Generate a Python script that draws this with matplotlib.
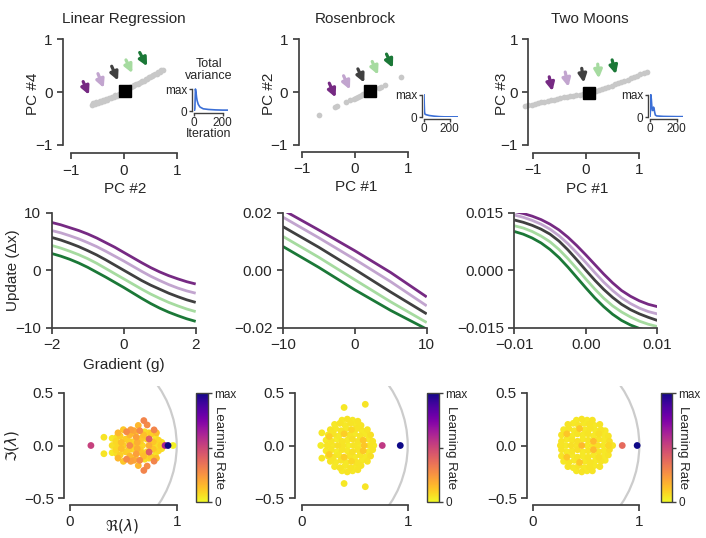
import matplotlib
matplotlib.use("Agg")
import matplotlib.pyplot as plt
import numpy as np
from matplotlib.patches import Arc
from matplotlib.colors import Normalize
from matplotlib.cm import ScalarMappable

W, H = 706, 538

TITLES = ["Linear Regression", "Rosenbrock", "Two Moons"]
PC_XLABELS = ["PC #2", "PC #1", "PC #1"]
PC_YLABELS = ["PC #4", "PC #2", "PC #3"]
LINE_COLORS = ["#762a83", "#c2a5cf", "#404040", "#a6dba0", "#1b7837"]

# --- top row: trajectory projections (gray dots), final point, arrows
lr_traj_x = [-0.61, -0.58, -0.55, -0.52, -0.49, -0.46, -0.43, -0.40, -0.37, -0.34,
             -0.31, -0.28, -0.25, -0.22, -0.19, -0.16, -0.13, -0.10, -0.07, -0.04,
             -0.01, 0.05, 0.08, 0.11, 0.14, 0.17, 0.20, 0.23, 0.26, 0.29, 0.32,
             0.35, 0.38, 0.41, 0.44, 0.47, 0.50, 0.53, 0.56, 0.59, 0.62, 0.65,
             0.68, 0.71, 0.74]
lr_traj_y = [-0.24, -0.21, -0.22, -0.19, -0.20, -0.17, -0.18, -0.15, -0.16, -0.13,
             -0.14, -0.11, -0.12, -0.09, -0.10, -0.06, -0.07, -0.04, -0.03, 0.00,
             0.01, 0.05, 0.06, 0.09, 0.09, 0.12, 0.13, 0.15, 0.16, 0.18, 0.19,
             0.21, 0.22, 0.25, 0.25, 0.28, 0.29, 0.31, 0.32, 0.35, 0.35, 0.38,
             0.38, 0.41, 0.42]
rb_traj_x = [-0.68, -0.38, -0.33, -0.17, -0.09, -0.01, 0.03, 0.06, 0.10, 0.13,
             0.16, 0.19, 0.22, 0.25, 0.46, 0.49, 0.57, 0.87]
rb_traj_y = [-0.44, -0.29, -0.27, -0.19, -0.15, -0.13, -0.11, -0.09, -0.07, -0.06,
             -0.04, -0.03, -0.02, -0.01, 0.07, 0.10, 0.13, 0.29]
tm_traj_x = [-1.14, -1.08, -1.02, -0.96, -0.90, -0.84, -0.78, -0.72, -0.66, -0.60,
             -0.54, -0.48, -0.42, -0.36, -0.30, -0.24, -0.18, -0.12, -0.06, 0.00,
             0.12, 0.18, 0.24, 0.30, 0.36, 0.42, 0.48, 0.54, 0.60, 0.66, 0.72,
             0.78, 0.84, 0.90, 0.96, 1.02, 1.08, 1.14]
tm_traj_y = [-0.26, -0.25, -0.235, -0.22, -0.205, -0.19, -0.18, -0.165, -0.15, -0.14,
             -0.13, -0.115, -0.10, -0.09, -0.08, -0.07, -0.055, -0.045, -0.035, -0.025,
             0.0, 0.015, 0.035, 0.055, 0.075, 0.10, 0.12, 0.145, 0.165, 0.19, 0.215,
             0.235, 0.26, 0.285, 0.31, 0.335, 0.355, 0.38]
final_points = [(0.02, 0.02), (0.28, 0.03), (0.06, -0.01)]

lr_arrow_tails = [(-0.77, 0.20), (-0.49, 0.35), (-0.23, 0.49), (0.04, 0.61), (0.30, 0.75)]
lr_arrow_heads = [(-0.66, -0.05), (-0.38, 0.08), (-0.11, 0.22), (0.16, 0.36), (0.44, 0.49)]
rb_arrow_tails = [(-0.48, 0.17), (-0.21, 0.31), (0.06, 0.44), (0.33, 0.58), (0.60, 0.72)]
rb_arrow_heads = [(-0.36, -0.10), (-0.09, 0.05), (0.18, 0.18), (0.44, 0.33), (0.72, 0.46)]
tm_arrow_tails = [(-0.69, 0.29), (-0.39, 0.38), (-0.08, 0.45), (0.22, 0.53), (0.49, 0.61)]
tm_arrow_heads = [(-0.63, 0.02), (-0.33, 0.10), (-0.04, 0.18), (0.24, 0.26), (0.56, 0.34)]

# insets: total variance vs iteration (normalised to max)
lr_iter = [0, 4, 8, 12, 16, 20, 28, 40, 63, 100, 150, 200, 240]
lr_var = [0.0, 0.1, 1.0, 0.85, 0.62, 0.47, 0.30, 0.18, 0.10, 0.07, 0.05, 0.04, 0.04]
rb_iter = [0, 2, 4, 6, 10, 20, 40, 80, 120, 160, 200, 265]
rb_var = [1.0, 0.55, 0.25, 0.16, 0.13, 0.11, 0.08, 0.05, 0.03, 0.02, 0.02, 0.02]
tm_iter = [0, 3, 6, 10, 14, 18, 22, 26, 30, 34, 40, 50, 100, 200, 250]
tm_var = [0.0, 0.3, 1.0, 0.8, 0.45, 0.30, 0.32, 0.45, 0.40, 0.25, 0.10, 0.06, 0.04, 0.03, 0.03]

# --- middle row: update vs gradient
lr_grad = [-2, -1.75, -1.5, -1.25, -1, -0.75, -0.5, -0.25, 0,
           0.25, 0.5, 0.75, 1, 1.25, 1.5, 1.75, 2]
lr_updates = [
    [8.3, 7.9, 7.4, 6.9, 6.3, 5.6, 4.8, 4.0, 3.1, 2.2, 1.3, 0.45, -0.3, -0.95, -1.5, -2.0, -2.4],
    [6.9, 6.5, 6.0, 5.45, 4.8, 4.1, 3.3, 2.45, 1.6, 0.7, -0.2, -1.05, -1.8, -2.5, -3.1, -3.6, -4.0],
    [5.7, 5.25, 4.7, 4.1, 3.4, 2.65, 1.8, 0.9, 0.0, -0.9, -1.8, -2.6, -3.3, -4.0, -4.6, -5.15, -5.6],
    [4.3, 3.85, 3.3, 2.7, 2.0, 1.2, 0.3, -0.6, -1.5, -2.4, -3.3, -4.15, -4.9, -5.6, -6.2, -6.75, -7.2],
    [2.9, 2.45, 1.9, 1.25, 0.5, -0.35, -1.2, -2.1, -3.0, -3.95, -4.9, -5.8, -6.6, -7.3, -7.9, -8.45, -8.9],
]
rb_grad = [-10, -5, 0, 5, 10]
rb_updates = [
    [0.0210, 0.0140, 0.0068, -0.0008, -0.0093],
    [0.0185, 0.0113, 0.0038, -0.0040, -0.0124],
    [0.0152, 0.0080, 0.0003, -0.0076, -0.0152],
    [0.0118, 0.0045, -0.0033, -0.0110, -0.0182],
    [0.0083, 0.0010, -0.0068, -0.0140, -0.0205],
]
tm_grad = [-0.01, -0.00875, -0.0075, -0.00625, -0.005, -0.00375, -0.0025, -0.00125, 0,
           0.00125, 0.0025, 0.00375, 0.005, 0.00625, 0.0075, 0.00875, 0.01]
tm_updates = [
    [0.0153, 0.0148, 0.0141, 0.0132, 0.0120, 0.0105, 0.0086, 0.0064, 0.0040,
     0.0015, -0.0010, -0.0033, -0.0053, -0.0068, -0.0080, -0.0089, -0.0095],
    [0.0144, 0.0138, 0.0130, 0.0120, 0.0107, 0.0090, 0.0069, 0.0045, 0.0020,
     -0.0006, -0.0031, -0.0053, -0.0072, -0.0087, -0.0099, -0.0108, -0.0114],
    [0.0131, 0.0125, 0.0117, 0.0107, 0.0094, 0.0076, 0.0053, 0.0027, 0.0000,
     -0.0026, -0.0050, -0.0071, -0.0089, -0.0103, -0.0114, -0.0123, -0.0131],
    [0.0116, 0.0110, 0.0101, 0.0089, 0.0074, 0.0054, 0.0030, 0.0004, -0.0023,
     -0.0049, -0.0073, -0.0093, -0.0109, -0.0122, -0.0133, -0.0141, -0.0147],
    [0.0101, 0.0094, 0.0084, 0.0071, 0.0054, 0.0033, 0.0008, -0.0019, -0.0046,
     -0.0072, -0.0095, -0.0115, -0.0131, -0.0143, -0.0152, -0.0158, -0.0162],
]
mid_xticks = [[-2, 0, 2], [-10, 0, 10], [-0.01, 0, 0.01]]
mid_xticklabels = [["\u22122", "0", "2"], ["\u221210", "0", "10"], ["\u22120.01", "0.00", "0.01"]]
mid_yticks = [[-10, 0, 10], [-0.02, 0, 0.02], [-0.015, 0, 0.015]]
mid_yticklabels = [["\u221210", "0", "10"], ["\u22120.02", "0.00", "0.02"],
                   ["\u22120.015", "0.000", "0.015"]]

# --- bottom row: eigenvalues (real axis points, and upper half of conjugate pairs)
lr_real = [(0.196, 0.52), (0.395, 0.06), (0.45, 0.08), (0.50, 0.10), (0.56, 0.28),
           (0.62, 0.12), (0.68, 0.08), (0.74, 0.18), (0.80, 0.06), (0.85, 0.10),
           (0.966, 0.02), (0.891, 0.62), (0.919, 1.0)]
lr_pairs = [(0.318, 0.078, 0.05), (0.395, 0.068, 0.04), (0.43, 0.04, 0.08), (0.47, 0.09, 0.10),
            (0.48, 0.03, 0.14), (0.53, 0.13, 0.28), (0.52, 0.06, 0.10), (0.56, 0.10, 0.16),
            (0.58, 0.035, 0.08), (0.60, 0.14, 0.20), (0.62, 0.08, 0.22), (0.654, 0.14, 0.28),
            (0.66, 0.04, 0.10), (0.69, 0.10, 0.14), (0.72, 0.06, 0.08), (0.70, 0.13, 0.06),
            (0.76, 0.11, 0.10), (0.78, 0.035, 0.12), (0.80, 0.09, 0.05), (0.83, 0.05, 0.08),
            (0.692, 0.236, 0.30), (0.723, 0.195, 0.28), (0.788, 0.148, 0.30), (0.45, 0.12, 0.16),
            (0.50, 0.15, 0.12), (0.57, 0.15, 0.22), (0.64, 0.19, 0.16), (0.741, 0.062, 0.42),
            (0.44, 0.08, 0.06), (0.55, 0.04, 0.10), (0.63, 0.03, 0.18), (0.74, 0.12, 0.08),
            (0.81, 0.12, 0.14), (0.86, 0.03, 0.06), (0.61, 0.11, 0.08), (0.67, 0.07, 0.12)]
rb_real = [(0.18, 0.03), (0.24, 0.05), (0.29, 0.04), (0.34, 0.06), (0.39, 0.05), (0.44, 0.03),
           (0.49, 0.05), (0.54, 0.04), (0.59, 0.12), (0.64, 0.05), (0.68, 0.04),
           (0.76, 0.55), (0.93, 1.0)]
rb_pairs = [(0.23, 0.05, 0.04), (0.28, 0.04, 0.05), (0.33, 0.06, 0.03), (0.38, 0.04, 0.05),
            (0.43, 0.05, 0.04), (0.48, 0.06, 0.06), (0.53, 0.04, 0.05), (0.58, 0.05, 0.12),
            (0.63, 0.06, 0.04), (0.67, 0.04, 0.05), (0.25, 0.10, 0.04), (0.30, 0.11, 0.05),
            (0.35, 0.09, 0.04), (0.40, 0.11, 0.10), (0.45, 0.10, 0.05), (0.50, 0.11, 0.04),
            (0.55, 0.09, 0.05), (0.60, 0.11, 0.04), (0.65, 0.10, 0.06), (0.27, 0.15, 0.05),
            (0.32, 0.16, 0.04), (0.37, 0.14, 0.05), (0.42, 0.16, 0.04), (0.47, 0.15, 0.08),
            (0.52, 0.16, 0.05), (0.57, 0.14, 0.04), (0.62, 0.15, 0.05), (0.31, 0.20, 0.04),
            (0.36, 0.21, 0.05), (0.41, 0.19, 0.04), (0.46, 0.21, 0.05), (0.51, 0.20, 0.04),
            (0.56, 0.19, 0.05), (0.38, 0.24, 0.04), (0.43, 0.25, 0.05), (0.48, 0.24, 0.04),
            (0.53, 0.23, 0.05), (0.19, 0.12, 0.04), (0.26, 0.085, 0.10), (0.40, 0.36, 0.04),
            (0.60, 0.39, 0.05)]
tm_real = [(0.26, 0.05), (0.31, 0.04), (0.36, 0.06), (0.41, 0.05), (0.46, 0.15), (0.51, 0.04),
           (0.56, 0.05), (0.61, 0.06), (0.66, 0.04), (0.71, 0.08), (0.75, 0.05),
           (0.84, 0.38), (0.98, 1.0)]
tm_pairs = [(0.27, 0.04, 0.05), (0.32, 0.06, 0.04), (0.37, 0.05, 0.05), (0.42, 0.04, 0.06),
            (0.47, 0.06, 0.04), (0.52, 0.05, 0.05), (0.57, 0.04, 0.15), (0.62, 0.06, 0.05),
            (0.67, 0.05, 0.04), (0.72, 0.04, 0.06), (0.27, 0.10, 0.05), (0.32, 0.11, 0.12),
            (0.37, 0.09, 0.04), (0.42, 0.11, 0.05), (0.47, 0.10, 0.04), (0.52, 0.11, 0.05),
            (0.57, 0.09, 0.04), (0.62, 0.11, 0.06), (0.67, 0.10, 0.04), (0.71, 0.09, 0.05),
            (0.29, 0.15, 0.04), (0.34, 0.16, 0.05), (0.39, 0.14, 0.04), (0.44, 0.16, 0.12),
            (0.49, 0.15, 0.04), (0.54, 0.16, 0.05), (0.59, 0.14, 0.04), (0.64, 0.15, 0.05),
            (0.68, 0.14, 0.04), (0.33, 0.20, 0.05), (0.38, 0.21, 0.04), (0.43, 0.19, 0.05),
            (0.48, 0.21, 0.04), (0.53, 0.20, 0.05), (0.58, 0.19, 0.04), (0.63, 0.20, 0.05),
            (0.41, 0.24, 0.04), (0.46, 0.25, 0.05), (0.51, 0.24, 0.04), (0.56, 0.24, 0.05)]

TEXT = "#262626"
SPINE = "#404040"


def make_axes(fig, xpx, xv, ypx, yv, xlim, ylim):
    """
    Add axes so that data values xv/yv land on pixel positions xpx/ypx
    """
    sx = (xpx[1] - xpx[0]) / (xv[1] - xv[0])
    sy = (ypx[1] - ypx[0]) / (yv[1] - yv[0])
    left = xpx[0] + (xlim[0] - xv[0]) * sx
    right = xpx[0] + (xlim[1] - xv[0]) * sx
    bottom = ypx[0] + (ylim[0] - yv[0]) * sy
    top = ypx[0] + (ylim[1] - yv[0]) * sy
    ax = fig.add_axes([left / W, 1 - bottom / H, (right - left) / W, (bottom - top) / H])
    ax.set_xlim(xlim)
    ax.set_ylim(ylim)
    ax.patch.set_visible(False)
    return ax


def style_axes(ax, xticks, yticks, xlabels, ylabels, xspine=None, yspine=None, size=11):
    for s in ["top", "right"]:
        ax.spines[s].set_visible(False)
    for s in ["left", "bottom"]:
        ax.spines[s].set_color(SPINE)
        ax.spines[s].set_linewidth(1.25)
    if xspine is not None:
        ax.spines["left"].set_position(("data", xspine))
    if yspine is not None:
        ax.spines["bottom"].set_position(("data", yspine))
    ax.spines["left"].set_bounds(yticks[0], yticks[-1])
    ax.spines["bottom"].set_bounds(xticks[0], xticks[-1])
    ax.set_xticks(xticks)
    ax.set_xticklabels(xlabels)
    ax.set_yticks(yticks)
    ax.set_yticklabels(ylabels)
    ax.tick_params(length=4, width=1.25, color=SPINE, labelcolor=TEXT, labelsize=size)


def fig_text(fig, x, y, s, **kw):
    fig.text(x / W, 1 - y / H, s, ha="center", va="center", color=TEXT, **kw)


def main():
    plt.rcParams["font.family"] = ["Liberation Sans", "DejaVu Sans"]
    plt.rcParams["mathtext.fontset"] = "dejavusans"
    fig = plt.figure(figsize=(W / 100, H / 100), dpi=100)

    # ---------- top row
    top_x = [(71, 176.7), (301.7, 407.7), (532.7, 639.3)]
    top_spx = [-1.15, -1.06, -1.08]
    top_spy = [-1.155, -1.13, -1.15]
    top_ylabel_x = [-0.154, -0.118, -0.098]
    trajs = [(lr_traj_x, lr_traj_y), (rb_traj_x, rb_traj_y), (tm_traj_x, tm_traj_y)]
    tails = [lr_arrow_tails, rb_arrow_tails, tm_arrow_tails]
    heads = [lr_arrow_heads, rb_arrow_heads, tm_arrow_heads]
    title_x = [124, 355, 590]
    for i in range(3):
        ax = make_axes(fig, top_x[i], (-1, 1), (145, 39.3), (-1, 1), (-1.2, 1.25), (-1.2, 1.12))
        style_axes(ax, [-1, 0, 1], [-1, 0, 1], ["\u22121", "0", "1"], ["\u22121", "0", "1"],
                   xspine=top_spx[i], yspine=top_spy[i])
        ax.scatter(trajs[i][0], trajs[i][1], s=17, color="#c8c8c8", linewidths=0, zorder=2)
        ax.plot(*final_points[i], marker="s", color="black", markersize=8.5, zorder=4)
        for c, t, h in zip(LINE_COLORS, tails[i], heads[i]):
            ax.annotate("", xy=h, xytext=t,
                        arrowprops=dict(arrowstyle="-|>", color=c, lw=2.3,
                                        mutation_scale=12, shrinkA=0, shrinkB=0))
        ax.set_xlabel(PC_XLABELS[i], fontsize=11, color=TEXT, labelpad=3)
        ax.set_ylabel(PC_YLABELS[i], fontsize=11, color=TEXT)
        ax.yaxis.set_label_coords(top_ylabel_x[i], 0.5)
        fig_text(fig, title_x[i], 19, TITLES[i], fontsize=11)

    # insets
    ins_x = [(194.3, 222.7), (424, 449.5), (650, 676.7)]
    ins_y = [(111, 89), (117.3, 94.7), (117.3, 94.7)]
    ins_xlim = [240, 265, 250]
    curves = [(lr_iter, lr_var), (rb_iter, rb_var), (tm_iter, tm_var)]
    for i in range(3):
        ax = make_axes(fig, ins_x[i], (0, 200), ins_y[i], (0, 1), (0, ins_xlim[i]), (0, 1.03))
        style_axes(ax, [0, 200], [0, 1], ["0", "200"], ["0", "max"], size=8.5)
        ax.spines["left"].set_position(("outward", 1.5))
        ax.spines["bottom"].set_position(("outward", 1.5))
        ax.tick_params(length=2.5, width=1.0, pad=1)
        ax.tick_params(axis="x", pad=0)
        for s in ["left", "bottom"]:
            ax.spines[s].set_linewidth(1.0)
        ax.plot(curves[i][0], curves[i][1], color="#3b6fd6", lw=1.2, zorder=3)
    fig_text(fig, 209, 70, "Total\nvariance", fontsize=9, linespacing=0.95)
    fig_text(fig, 209, 134, "Iteration", fontsize=9)

    # ---------- middle row
    mid_x = [(51.7, 195.7), (282.7, 426.7), (514.3, 657.3)]
    grads = [lr_grad, rb_grad, tm_grad]
    updates = [lr_updates, rb_updates, tm_updates]
    for i in range(3):
        xt, yt = mid_xticks[i], mid_yticks[i]
        ax = make_axes(fig, mid_x[i], (xt[0], xt[-1]), (327.7, 212.7), (yt[0], yt[-1]),
                       (xt[0], xt[-1]), (yt[0], yt[-1]))
        style_axes(ax, xt, yt, mid_xticklabels[i], mid_yticklabels[i])
        for c, u in zip(LINE_COLORS, updates[i]):
            ax.plot(grads[i], u, color=c, lw=2.0, solid_capstyle="butt")
        if i == 0:
            ax.set_xlabel("Gradient (g)", fontsize=11, color=TEXT, labelpad=4)
            ax.set_ylabel("Update (\u0394x)", fontsize=11, color=TEXT)
            ax.yaxis.set_label_coords(-0.22, 0.5)

    # ---------- bottom row
    bot_x = [(70, 176.7), (301.7, 407.7), (532.7, 639.3)]
    bot_spx = [-0.053, -0.063, -0.05]
    cbar_x = [(196, 208), (427, 439.3), (660.7, 672.3)]
    reals = [lr_real, rb_real, tm_real]
    pairs = [lr_pairs, rb_pairs, tm_pairs]
    norm = Normalize(0, 1)
    for i in range(3):
        ax = make_axes(fig, bot_x[i], (0, 1), (498.3, 392.7), (-0.5, 0.5), (-0.08, 1.06), (-0.56, 0.56))
        style_axes(ax, [0, 1], [-0.5, 0, 0.5], ["0", "1"], ["\u22120.5", "0.0", "0.5"],
                   xspine=bot_spx[i], yspine=-0.56)
        ax.add_patch(Arc((0, 0), 2, 2, theta1=-90, theta2=90, color="#cccccc", lw=1.6, zorder=1))
        xs = [p[0] for p in pairs[i]] + [p[0] for p in pairs[i]] + [r[0] for r in reals[i]]
        ys = [p[1] for p in pairs[i]] + [-p[1] for p in pairs[i]] + [0.0 for r in reals[i]]
        cs = [p[2] for p in pairs[i]] + [p[2] for p in pairs[i]] + [r[1] for r in reals[i]]
        order = np.argsort(cs, kind="stable")
        ax.scatter(np.array(xs)[order], np.array(ys)[order], c=np.array(cs)[order],
                   cmap="plasma_r", norm=norm, s=24, linewidths=0, zorder=3)
        if i == 0:
            ax.set_xlabel(r"$\Re(\lambda)$", fontsize=11, color=TEXT, labelpad=-9)
            ax.set_ylabel(r"$\Im(\lambda)$", fontsize=11, color=TEXT)
            ax.yaxis.set_label_coords(-0.33, 0.5)

        x0, x1 = cbar_x[i]
        cax = fig.add_axes([x0 / W, 1 - 502 / H, (x1 - x0) / W, (502 - 393) / H])
        cb = fig.colorbar(ScalarMappable(norm=norm, cmap="plasma_r"), cax=cax)
        cb.set_ticks([0, 0.5, 1])
        cb.set_ticklabels(["0", "", "max"])
        cb.ax.tick_params(labelsize=8.5, length=3, width=1.0, color=SPINE,
                          labelcolor=TEXT, pad=1.5)
        cb.outline.set_edgecolor(SPINE)
        cb.outline.set_linewidth(1.0)
        cb.ax.text(1.95, 0.5, "Learning Rate", rotation=270, transform=cb.ax.transAxes,
                   ha="center", va="center", fontsize=9.5, color=TEXT)

    fig.savefig("out.png", dpi=100)


if __name__ == "__main__":
    main()
